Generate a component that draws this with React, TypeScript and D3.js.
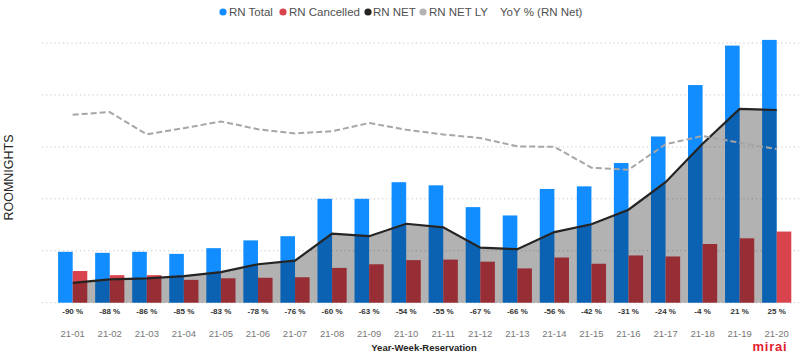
import React from 'react';
import * as d3 from 'd3';

const categories = ['21-01', '21-02', '21-03', '21-04', '21-05', '21-06', '21-07', '21-08', '21-09', '21-10',
  '21-11', '21-12', '21-13', '21-14', '21-15', '21-16', '21-17', '21-18', '21-19', '21-20'];
const rnTotal = [98, 96, 98, 94, 105, 120, 128, 200, 200, 232, 226, 184, 168, 219, 224, 269, 320, 419, 495, 506];
const rnCancelled = [61, 53, 53, 44, 47, 48, 49, 67, 74, 82, 83, 79, 66, 87, 75, 91, 89, 113, 124, 137];
const rnNet = [38, 45, 47, 51, 59, 74, 81, 133, 128, 152, 145, 106, 103, 136, 151, 179, 232, 306, 373, 371];
const rnNetLY = [362, 367, 324, 336, 349, 334, 326, 330, 346, 333, 324, 317, 301, 300, 260, 256, 305, 321, 308, 296];
const yoy = [-90, -88, -86, -85, -83, -78, -76, -60, -63, -54, -55, -67, -66, -56, -42, -31, -24, -4, 21, 25];
const yTicks = [0, 100, 200, 300, 400, 500];
const seriesKeys = ['total', 'cancelled'];

const legendItems = [
  { label: 'RN Total', color: '#118DFF', dot: 223, text: 229 },
  { label: 'RN Cancelled', color: '#D9434E', dot: 283, text: 289 },
  { label: 'RN NET', color: '#252423', dot: 368, text: 373 },
  { label: 'RN NET LY', color: '#B3B3B3', dot: 423, text: 429 },
  { label: 'YoY % (RN Net)', color: null, dot: 0, text: 500 },
];

export default function App() {
  const width = 800;
  const height = 354;

  const x = d3.scalePoint<string>().domain(categories).range([72.7, 776.7]);
  const x1 = d3.scaleBand<string>().domain(seriesKeys).range([-14.6, 14.6]);
  const y = d3.scaleLinear().domain([0, 500]).range([302.7, 43]);

  const pts = categories.map((c, i) => ({ c, net: rnNet[i], ly: rnNetLY[i] }));
  const area = d3.area<typeof pts[0]>()
    .x(d => x(d.c)!)
    .y0(y(0))
    .y1(d => y(d.net));
  const netLine = d3.line<typeof pts[0]>().x(d => x(d.c)!).y(d => y(d.net));
  const lyLine = d3.line<typeof pts[0]>().x(d => x(d.c)!).y(d => y(d.ly));

  const font = '"Segoe UI", "Liberation Sans", Arial, sans-serif';

  return (
    <svg width={width} height={height} style={{ position: 'fixed', left: 0, top: 0, background: '#fff' }}
      fontFamily={font}>
      {/* legend */}
      {legendItems.map(d => (
        <g key={d.label}>
          {d.color && <circle cx={d.dot} cy={12} r={3.6} fill={d.color} />}
          <text x={d.text} y={16.3} fontSize={11.5} fill="#505050">{d.label}</text>
        </g>
      ))}

      {/* gridlines */}
      {yTicks.map(t => (
        <line key={t} x1={42} x2={800} y1={y(t)} y2={y(t)} stroke="#C8C8C8" strokeDasharray="1.2 3" />
      ))}

      {/* bars */}
      {categories.map((c, i) => (
        <g key={c} transform={`translate(${x(c)},0)`}>
          <rect x={x1('total')} width={x1.bandwidth()} y={y(rnTotal[i])} height={y(0) - y(rnTotal[i])} fill="#118DFF" />
          <rect x={x1('cancelled')} width={x1.bandwidth()} y={y(rnCancelled[i])} height={y(0) - y(rnCancelled[i])} fill="#D9434E" />
        </g>
      ))}

      {/* RN NET area overlay */}
      <path d={area(pts)!} fill="#000" fillOpacity={0.3} />
      <path d={netLine(pts)!} fill="none" stroke="#252423" strokeWidth={2.2} />
      <path d={lyLine(pts)!} fill="none" stroke="#A6A6A6" strokeWidth={2} strokeDasharray="6 3" />

      {/* YoY labels */}
      {categories.map((c, i) => (
        <text key={c} x={x(c)} y={313.5} textAnchor="middle" fontSize={8} fontWeight="bold" fill="#333">
          {`${yoy[i]} %`}
        </text>
      ))}

      {/* category labels */}
      {categories.map(c => (
        <text key={c} x={x(c)} y={337} textAnchor="middle" fontSize={9.5} fill="#777">{c}</text>
      ))}

      <text x={424} y={351} textAnchor="middle" fontSize={9.5} fontWeight="bold" fill="#252423">Year-Week-Reservation</text>

      <text transform="translate(13,177.5) rotate(-90)" textAnchor="middle" fontSize={12.5} fill="#252423">ROOMNIGHTS</text>

      <text x={770} y={351.2} textAnchor="middle" fontSize={13} fontWeight="bold" letterSpacing={0.8} fill="#E4222E">mirai</text>
    </svg>
  );
}
